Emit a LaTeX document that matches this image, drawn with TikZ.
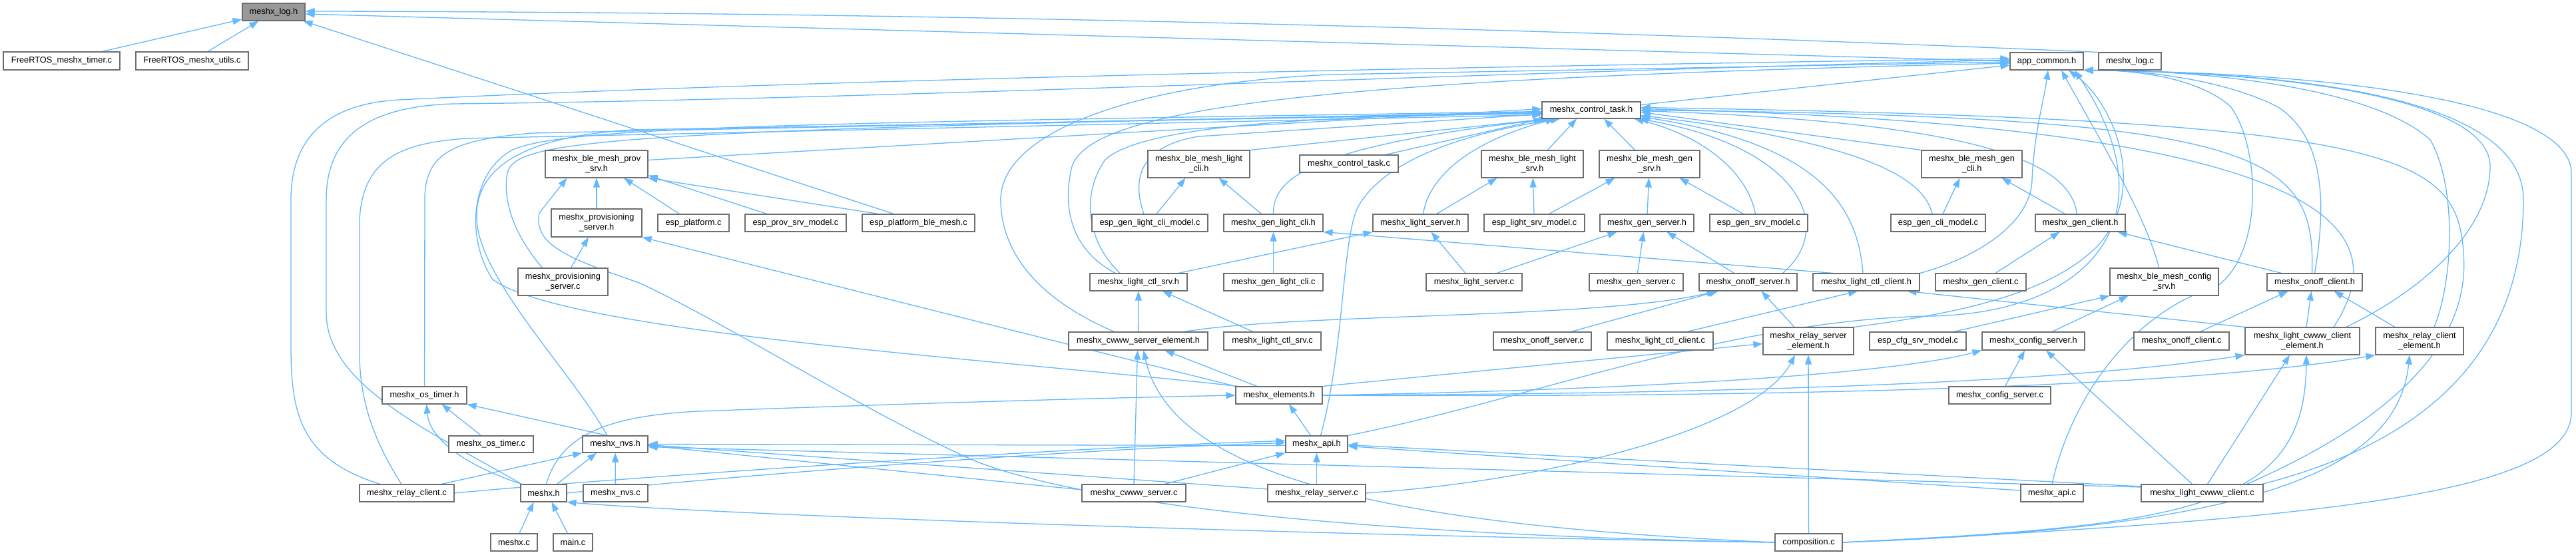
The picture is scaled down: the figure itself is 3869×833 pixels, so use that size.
\documentclass[tikz,border=0pt]{standalone}
\usepackage{fontspec}
\setmainfont{Liberation Sans}
\usetikzlibrary{arrows.meta}
\definecolor{edgeblue}{HTML}{63B8FF}
\definecolor{boxgray}{HTML}{6E6E6E}
\definecolor{rootgray}{HTML}{999999}
\pgfdeclarelayer{bgl}
\pgfdeclarelayer{edgelayer}
\pgfsetlayers{bgl,edgelayer,main}
\newcommand\mknode[7][]{\node[nbox,minimum width={(#5-#3)*1pt},minimum height={(#6-#4)*1pt},#1] (#2) at ({(#3+#5)/2},{(#4+#6)/2}) {#7};}
\begin{document}
\begin{tikzpicture}[x=1pt,y=-1pt,
  nbox/.style={draw=boxgray,line width=1.1pt,fill=white,inner sep=0pt,align=center,font=\fontsize{12.8}{15}\selectfont},
  edg/.style={draw=edgeblue,line width=1.3pt,-{Triangle[length=14pt,width=10pt]}}]
\begin{pgfonlayer}{bgl}
\fill[white] (0,0) rectangle (3869,833);
\end{pgfonlayer}
\useasboundingbox (0,0) rectangle (3869,833);
% nodes
\mknode[fill=rootgray]{log}{364}{5}{458}{31}{meshx\_log.h}
\mknode{ftimer}{5}{78}{180}{105}{FreeRTOS\_meshx\_timer.c}
\mknode{futils}{204}{78}{373}{105}{FreeRTOS\_meshx\_utils.c}
\mknode{app}{3019}{79}{3129}{105}{app\_common.h}
\mknode{logc}{3152}{79}{3246}{105}{meshx\_log.c}
\mknode{ctl}{2316}{153}{2464}{178}{meshx\_control\_task.h}
\mknode{ctlc}{1952}{233}{2100}{259}{meshx\_control\_task.c}
\mknode{provsrv}{819}{226}{973}{267}{meshx\_ble\_mesh\_prov\\\_srv.h}
\mknode{lcli}{1724}{226}{1877}{267}{meshx\_ble\_mesh\_light\\\_cli.h}
\mknode{lsrv}{2225}{226}{2378}{267}{meshx\_ble\_mesh\_light\\\_srv.h}
\mknode{gsrv}{2402}{226}{2553}{267}{meshx\_ble\_mesh\_gen\\\_srv.h}
\mknode{gcli}{2886}{226}{3037}{267}{meshx\_ble\_mesh\_gen\\\_cli.h}
\mknode{provserverh}{828}{314}{964}{356}{meshx\_provisioning\\\_server.h}
\mknode{provserverc}{778}{403}{913}{444}{meshx\_provisioning\\\_server.c}
\mknode{espplat}{988}{322}{1095}{348}{esp\_platform.c}
\mknode{espprov}{1119}{322}{1271}{348}{esp\_prov\_srv\_model.c}
\mknode{espble}{1295}{322}{1464}{348}{esp\_platform\_ble\_mesh.c}
\mknode{espglcli}{1640}{322}{1814}{348}{esp\_gen\_light\_cli\_model.c}
\mknode{genlcli}{1838}{322}{1987}{348}{meshx\_gen\_light\_cli.h}
\mknode{lightserverh}{2062}{322}{2205}{348}{meshx\_light\_server.h}
\mknode{esplsrv}{2229}{322}{2380}{348}{esp\_light\_srv\_model.c}
\mknode{genserverh}{2403}{322}{2544}{348}{meshx\_gen\_server.h}
\mknode{espgsrv}{2568}{322}{2715}{348}{esp\_gen\_srv\_model.c}
\mknode{espgcli}{2840}{322}{2982}{348}{esp\_gen\_cli\_model.c}
\mknode{genclienth}{3057}{322}{3192}{348}{meshx\_gen\_client.h}
\mknode{lctlsrvh}{1637}{411}{1783}{437}{meshx\_light\_ctl\_srv.h}
\mknode{genlclic}{1838}{411}{1987}{437}{meshx\_gen\_light\_cli.c}
\mknode{lightserverc}{2142}{411}{2286}{437}{meshx\_light\_server.c}
\mknode{genserverc}{2387}{411}{2528}{437}{meshx\_gen\_server.c}
\mknode{onoffserverh}{2552}{411}{2699}{437}{meshx\_onoff\_server.h}
\mknode{lctlclienth}{2723}{411}{2883}{437}{meshx\_light\_ctl\_client.h}
\mknode{genclientc}{2907}{411}{3043}{437}{meshx\_gen\_client.c}
\mknode{cfgsrv}{3169}{403}{3332}{444}{meshx\_ble\_mesh\_config\\\_srv.h}
\mknode{onoffclienth}{3405}{411}{3548}{437}{meshx\_onoff\_client.h}
\mknode{cwwwsel}{1605}{499}{1814}{526}{meshx\_cwww\_server\_element.h}
\mknode{lctlsrvc}{1838}{499}{1984}{526}{meshx\_light\_ctl\_srv.c}
\mknode{onoffserverc}{2243}{499}{2390}{526}{meshx\_onoff\_server.c}
\mknode{lctlclientc}{2414}{499}{2573}{526}{meshx\_light\_ctl\_client.c}
\mknode{relaysel}{2648}{492}{2784}{533}{meshx\_relay\_server\\\_element.h}
\mknode{espcfg}{2808}{499}{2953}{526}{esp\_cfg\_srv\_model.c}
\mknode{cfgserverh}{2977}{499}{3131}{526}{meshx\_config\_server.h}
\mknode{onoffclientc}{3205}{499}{3348}{526}{meshx\_onoff\_client.c}
\mknode{lcwwwcel}{3372}{492}{3544}{533}{meshx\_light\_cwww\_client\\\_element.h}
\mknode{relaycel}{3568}{492}{3700}{533}{meshx\_relay\_client\\\_element.h}
\mknode{ostimerh}{574}{581}{701}{607}{meshx\_os\_timer.h}
\mknode{elements}{1856}{581}{1986}{607}{meshx\_elements.h}
\mknode{cfgserverc}{2927}{581}{3080}{607}{meshx\_config\_server.c}
\mknode{ostimerc}{674}{655}{801}{680}{meshx\_os\_timer.c}
\mknode{nvsh}{875}{655}{973}{680}{meshx\_nvs.h}
\mknode{apih}{1931}{655}{2024}{680}{meshx\_api.h}
\mknode{relayclientc}{540}{728}{682}{754}{meshx\_relay\_client.c}
\mknode{meshxh}{782}{728}{851}{754}{meshx.h}
\mknode{nvsc}{876}{728}{973}{754}{meshx\_nvs.c}
\mknode{cwwwserverc}{1625}{728}{1781}{754}{meshx\_cwww\_server.c}
\mknode{relayserverc}{1904}{728}{2051}{754}{meshx\_relay\_server.c}
\mknode{apic}{3035}{728}{3129}{754}{meshx\_api.c}
\mknode{lcwwwclientc}{3216}{728}{3399}{754}{meshx\_light\_cwww\_client.c}
\mknode{meshxc}{737}{802}{807}{828}{meshx.c}
\mknode{mainc}{831}{802}{890}{828}{main.c}
\mknode{composition}{2666}{802}{2767}{828}{composition.c}
% edges
\begin{pgfonlayer}{edgelayer}
% into meshx_log.h
\draw[edg] (ftimer) -- (log);
\draw[edg] (futils) -- (log);
\draw[edg] ([xshift=-37pt]espble.north) -- ([xshift=-3pt]log.south east);
\draw[edg] (app.west) -- ([yshift=-3pt]log.east);
\draw[edg] (logc.north west) .. controls (2500,50) and (1500,18) .. ([yshift=1pt]log.east);
% into app_common.h
\draw[edg] (ctl) -- (app);
\draw[edg] ([xshift=-40pt]relayclientc.north) .. controls (450,690) and (437,620) .. (437,520) -- (437,300) .. controls (437,200) and (500,155) .. (600,150) .. controls (1200,120) and (2200,100) .. ([yshift=4pt]app.west);
\draw[edg] ([xshift=2pt]meshxh.north west) .. controls (650,650) and (490,580) .. (490,470) -- (490,300) .. controls (490,200) and (560,160) .. (680,156) .. controls (1300,150) and (2200,110) .. ([yshift=2pt]app.west);
\draw[edg] ([xshift=-36pt]cwwwsel.north) .. controls (1560,450) and (1503,380) .. (1503,300) .. controls (1503,200) and (1700,125) .. (2000,112) -- ([yshift=-1pt]app.west);
\draw[edg] ([xshift=-35pt]lctlsrvh.north) .. controls (1600,370) and (1598,300) .. (1610,250) .. controls (1640,160) and (2000,118) .. ([yshift=-3pt]app.west);
\draw[edg] (lctlclienth.north east) .. controls (2960,390) and (3050,340) .. (3052,270) .. controls (3055,200) and (3070,150) .. ([xshift=2pt]app.south);
\draw[edg] ([xshift=-8pt]cfgsrv.north) .. controls (3225,330) and (3160,220) .. ([xshift=22pt]app.south);
\draw[edg] (relaysel.north east) .. controls (2950,470) and (3080,440) .. (3150,370) .. controls (3225,290) and (3180,160) .. ([xshift=33pt]app.south);
\draw[edg] (apih.north east) .. controls (2300,600) and (2600,480) .. (2900,475) .. controls (3150,470) and (3260,320) .. ([xshift=42pt]app.south);
\draw[edg] (apic.north) .. controls (3110,600) and (3200,470) .. (3330,430) .. controls (3400,380) and (3395,220) .. (3350,160) .. controls (3300,115) and (3200,105) .. (app.south east);
\draw[edg] (onoffclienth.north) .. controls (3490,330) and (3500,210) .. (3420,160) .. controls (3330,115) and (3200,105) .. (app.south east);
\draw[edg] ([xshift=22pt]relaycel.north) .. controls (3685,420) and (3690,280) .. (3650,210) .. controls (3550,120) and (3250,105) .. (app.south east);
\draw[edg] ([xshift=66pt]lcwwwcel.north) .. controls (3650,430) and (3740,340) .. (3740,250) .. controls (3740,160) and (3500,110) .. (app.south east);
\draw[edg] ([xshift=-2pt]lcwwwclientc.north east) .. controls (3700,650) and (3790,480) .. (3790,300) .. controls (3790,170) and (3550,110) .. (app.south east);
\draw[edg] (composition.east) .. controls (3500,780) and (3862,740) .. (3862,620) -- (3862,260) .. controls (3862,160) and (3550,110) .. (app.south east);
% into meshx_control_task.h
\draw[edg] ([yshift=6pt]provsrv.east) -- ([yshift=2pt]ctl.west);
\draw[edg] (lcli.north east) -- ([xshift=10pt]ctl.south west);
\draw[edg] ([xshift=23pt]lsrv.north) -- ([xshift=-22pt]ctl.south);
\draw[edg] ([xshift=-22pt]gsrv.north) -- ([xshift=19pt]ctl.south);
\draw[edg] ([xshift=55pt]ctlc.north) -- ([xshift=2pt]ctl.south west);
\draw[edg] (gcli.north west) -- ([yshift=-3pt]ctl.east);
\draw[edg] ([xshift=-31pt]provserverc.north) .. controls (770,350) and (755,300) .. (762,260) .. controls (775,210) and (900,195) .. ([yshift=-4pt]ctl.west);
\draw[edg] ([xshift=-9pt]espglcli.north) .. controls (1700,270) and (1710,220) .. (1800,205) -- ([yshift=-6pt]ctl.west);
\draw[edg] (genlcli.north) .. controls (1912,270) and (1960,220) .. ([xshift=14pt]ctl.south west);
\draw[edg] ([xshift=4pt]lightserverh.north) .. controls (2145,270) and (2200,215) .. ([xshift=20pt]ctl.south west);
\draw[edg] ([xshift=-5pt]espgsrv.north) .. controls (2625,260) and (2560,205) .. ([xshift=-10pt]ctl.south east);
\draw[edg] ([xshift=-9pt]espgcli.north) .. controls (2890,270) and (2810,215) .. ([yshift=-8pt]ctl.east);
\draw[edg] ([xshift=-5pt]genclienth.north) .. controls (3110,250) and (3000,185) .. ([yshift=-1pt]ctl.east);
\draw[edg] ([xshift=52pt]onoffserverh.north) .. controls (2760,340) and (2700,220) .. ([xshift=-3pt]ctl.south east);
\draw[edg] ([xshift=-5pt]lctlclienth.north) .. controls (2790,300) and (2720,215) .. ([yshift=-10pt]ctl.east);
\draw[edg] ([xshift=-4pt]onoffclienth.north) .. controls (3478,230) and (3400,175) .. (ctl.east);
\draw[edg] ([xshift=47pt]lcwwwcel.north) .. controls (3590,360) and (3560,190) .. ([yshift=2pt]ctl.east);
\draw[edg] ([xshift=-25pt]lcwwwclientc.north east) .. controls (3620,620) and (3710,500) .. (3700,380) .. controls (3690,230) and (3600,180) .. ([yshift=4pt]ctl.east);
\draw[edg] ([xshift=4pt]elements.north west) .. controls (1500,540) and (850,500) .. (740,420) .. controls (700,360) and (705,260) .. (770,225) .. controls (850,190) and (1200,185) .. ([yshift=-2pt]ctl.west);
\draw[edg] ([xshift=-12pt]nvsh.north) .. controls (860,560) and (720,420) .. (716,330) .. controls (712,250) and (790,205) .. (950,195) -- ([yshift=-5pt]ctl.west);
\draw[edg] ([xshift=-8pt]relayclientc.north) .. controls (560,660) and (540,600) .. (540,530) -- (540,330) .. controls (545,240) and (600,215) .. (700,208) -- ([yshift=-7pt]ctl.west);
\draw[edg] (ostimerh.north) -- (638,300) .. controls (638,230) and (680,210) .. (800,200) -- ([yshift=-3pt]ctl.west);
\draw[edg] ([xshift=6pt]apih.north) .. controls (2020,520) and (2015,360) .. (2040,310) .. controls (2080,240) and (2200,200) .. ([xshift=28pt]ctl.south west);
\draw[edg] ([xshift=-28pt]lctlsrvh.north) .. controls (1630,360) and (1625,290) .. (1660,240) .. controls (1720,185) and (2000,175) .. ([yshift=-4pt]ctl.west);
% second level
\draw[edg] (provserverh) -- (provsrv);
\draw[edg] (provserverc) -- (provserverh);
\draw[edg] ([xshift=-21pt]espplat.north) -- ([xshift=41pt]provsrv.south);
\draw[edg] ([xshift=-43pt]espprov.north) -- ([yshift=4pt]provsrv.south east);
\draw[edg] ([xshift=-60pt]espble.north) -- (provsrv.south east);
\draw[edg] (elements.north west) -- (provserverh.south east);
\draw[edg] (composition.west) .. controls (2100,805) and (1650,765) .. (1465,693) .. controls (1300,620) and (1100,490) .. (960,425) .. controls (860,390) and (800,370) .. (810,320) -- ([xshift=33pt]provsrv.south west);
\draw[edg] ([xshift=10pt]espglcli.north) -- ([xshift=-20pt]lcli.south);
\draw[edg] ([xshift=-18pt]genlcli.north) -- ([xshift=30pt]lcli.south);
\draw[edg] (genlclic) -- (genlcli);
\draw[edg] ([xshift=24pt]lightserverh.north) -- ([xshift=-53pt]lsrv.south);
\draw[edg] (esplsrv) -- (lsrv);
\draw[edg] ([xshift=22pt]esplsrv.north) -- ([xshift=-52pt]gsrv.south);
\draw[edg] (genserverh) -- (gsrv);
\draw[edg] ([xshift=-23pt]espgsrv.north) -- ([xshift=45pt]gsrv.south);
\draw[edg] ([xshift=7pt]espgcli.north) -- ([xshift=-18pt]gcli.south);
\draw[edg] ([xshift=-23pt]genclienth.north) -- ([xshift=45pt]gcli.south);
\draw[edg] ([xshift=22pt]genclientc.north) -- ([xshift=-31pt]genclienth.south);
\draw[edg] ([xshift=-50pt]onoffclienth.north) -- ([xshift=-12pt]genclienth.south east);
\draw[edg] ([xshift=28pt]onoffclientc.north) -- ([xshift=-40pt]onoffclienth.south);
\draw[edg] ([xshift=6pt]lcwwwcel.north) -- ([xshift=-5pt]onoffclienth.south);
\draw[edg] ([xshift=-37pt]relaycel.north) -- ([xshift=29pt]onoffclienth.south);
\draw[edg] (lcwwwcel.north west) -- ([xshift=-19pt]lctlclienth.south east);
\draw[edg] ([xshift=40pt]lctlclientc.north) -- ([xshift=-13pt]lctlclienth.south);
\draw[edg] ([xshift=-21pt]relaysel.north) -- ([xshift=20pt]onoffserverh.south);
\draw[edg] ([xshift=43pt]onoffserverc.north) -- ([xshift=-45pt]onoffserverh.south);
\draw[edg] ([xshift=-21pt]onoffserverh.north) -- ([xshift=30pt]genserverh.south);
\draw[edg] ([xshift=2pt]genserverc.north) -- ([xshift=-5pt]genserverh.south);
\draw[edg] ([xshift=34pt]lightserverc.north) -- ([xshift=-45pt]genserverh.south);
\draw[edg] ([xshift=-13pt]lightserverc.north) -- ([xshift=16pt]lightserverh.south);
\draw[edg] ([xshift=60pt]lctlsrvh.north) -- (lightserverh.south west);
\draw[edg] ([xshift=-50pt]lctlclienth.north) -- (genlcli.south east);
\draw[edg] ([xshift=-29pt]lctlsrvc.north) -- ([xshift=36pt]lctlsrvh.south);
\draw[edg] (cwwwsel) -- (lctlsrvh);
\draw[edg] ([xshift=69pt]cwwwsel.north) .. controls (1950,470) and (2400,480) .. ([xshift=-48pt]onoffserverh.south);
\draw[edg] (cwwwserverc.north) -- ([xshift=-1pt]cwwwsel.south);
\draw[edg] ([xshift=-33pt]elements.north) -- ([xshift=40pt]cwwwsel.south);
\draw[edg] (composition.west) .. controls (2100,790) and (1760,720) .. ([xshift=8pt]cwwwsel.south);
\draw[edg] (elements.north east) -- ([yshift=-4pt]relaysel.west);
\draw[edg] (composition) -- (relaysel);
\draw[edg] (relayserverc.east) .. controls (2350,720) and (2640,640) .. ([xshift=-20pt]relaysel.south);
\draw[edg] ([xshift=54pt]espcfg.north) -- (cfgsrv.south west);
\draw[edg] ([xshift=28pt]cfgserverh.north) -- ([xshift=-54pt]cfgsrv.south);
\draw[edg] ([xshift=8pt]cfgserverc.north) -- ([xshift=-13pt]cfgserverh.south);
\draw[edg] ([xshift=-15pt]lcwwwclientc.north) -- ([xshift=19pt]cfgserverh.south);
\draw[edg] ([xshift=8pt]lcwwwclientc.north) -- ([xshift=-19pt]lcwwwcel.south);
\draw[edg] (elements.east) .. controls (2500,585) and (2850,560) .. (cfgserverh.south west);
\draw[edg] (elements.east) .. controls (2600,592) and (3100,575) .. (lcwwwcel.south west);
\draw[edg] (elements.east) .. controls (2700,598) and (3300,580) .. (relaycel.south west);
\draw[edg] (composition.east) .. controls (3300,790) and (3462,760) .. ([xshift=6pt]lcwwwcel.south);
\draw[edg] (composition.east) .. controls (3350,795) and (3600,720) .. ([xshift=-15pt]relaycel.south);
\draw[edg] ([xshift=-9pt]apih.north) -- ([xshift=15pt]elements.south);
% lower part
\draw[edg] ([xshift=-12pt]nvsh.north) -- (ostimerh.south east);
\draw[edg] ([xshift=-15pt]ostimerc.north) -- ([xshift=26pt]ostimerh.south);
\draw[edg] ([xshift=2pt]meshxh.north west) .. controls (700,700) and (645,660) .. ([xshift=3pt]ostimerh.south);
\draw[edg] ([xshift=52pt]relayclientc.north) -- (nvsh.south west);
\draw[edg] ([xshift=20pt]meshxh.north) -- ([xshift=-28pt]nvsh.south);
\draw[edg] (nvsc) -- (nvsh);
\draw[edg] ([xshift=4pt]meshxh.north) .. controls (840,660) and (900,625) .. (1050,618) .. controls (1400,605) and (1700,597) .. (elements.west);
\draw[edg] (meshxh.east) .. controls (1100,715) and (1600,675) .. ([yshift=2pt]apih.west);
\draw[edg] (relayclientc.east) .. controls (900,720) and (1600,672) .. ([yshift=5pt]apih.west);
\draw[edg] ([xshift=46pt]cwwwserverc.north) -- (apih.south west);
\draw[edg] ([yshift=5pt]cwwwserverc.west) -- ([yshift=-2pt]nvsh.east);
\draw[edg] ([yshift=6pt]relayserverc.west) -- ([yshift=-1pt]nvsh.east);
\draw[edg] ([yshift=-2pt]apih.west) -- (nvsh.east);
\draw[edg] ([yshift=9pt]lcwwwclientc.west) -- ([yshift=-4pt]nvsh.east);
\draw[edg] (relayserverc) -- (apih);
\draw[edg] ([yshift=4pt]apic.west) -- ([yshift=-3pt]apih.east);
\draw[edg] ([yshift=10pt]lcwwwclientc.west) -- ([yshift=-1pt]apih.east);
\draw[edg] ([xshift=8pt]meshxc.north) -- ([xshift=-15pt]meshxh.south);
\draw[edg] ([xshift=-8pt]mainc.north) -- ([xshift=12pt]meshxh.south);
\draw[edg] (composition.west) .. controls (2000,805) and (1100,775) .. (meshxh.south east);
\end{pgfonlayer}
\end{tikzpicture}
\end{document}
